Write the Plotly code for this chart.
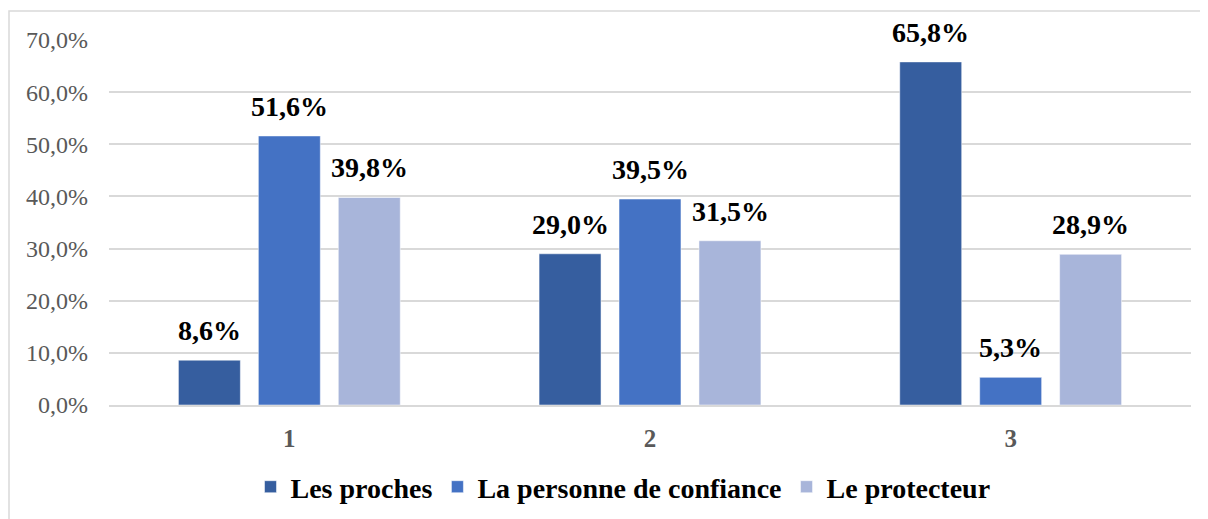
import plotly.graph_objects as go

categories = ["1", "2", "3"]
series_names = ["Les proches", "La personne de confiance", "Le protecteur"]
les_proches = [8.6, 29.0, 65.8]
personne_confiance = [51.6, 39.5, 5.3]
protecteur = [39.8, 31.5, 28.9]
y_ticks = [0, 10, 20, 30, 40, 50, 60, 70]
y_tick_labels = ["0,0%", "10,0%", "20,0%", "30,0%", "40,0%", "50,0%", "60,0%", "70,0%"]

colors = ["#365E9F", "#4472C4", "#A8B5DA"]
all_values = [les_proches, personne_confiance, protecteur]
SERIF = "Liberation Serif"

def fmt(v):
    return f"{v:.1f}".replace(".", ",") + "%"

fig = go.Figure()
for name, vals, col in zip(series_names, all_values, colors):
    fig.add_trace(go.Bar(
        x=categories, y=vals, name="<b>" + name + "</b>",
        marker=dict(color=col, line=dict(color="rgba(255,255,255,0.5)", width=1)),
        hoverinfo="skip",
    ))

# data labels via annotations anchored to the bar values (category index on x)
offsets = [-80, 0, 80]
for vals, dx in zip(all_values, offsets):
    for i, v in enumerate(vals):
        fig.add_annotation(
            x=i, y=v, xref="x", yref="y", text="<b>" + fmt(v) + "</b>", showarrow=False,
            xshift=dx, yshift=12, yanchor="bottom",
            font=dict(family=SERIF, size=28, color="#000000"),
        )

# page body has an 8px margin; compensate
L, R, T, B = 101, 17, 32, 114
W, H = 1200, 511
pw, ph = W - L - R, H - T - B

fig.add_shape(
    type="rect", xref="paper", yref="paper",
    x0=(1 - L) / pw, x1=(1220 - L) / pw,
    y0=1 - (530 - T) / ph, y1=1 + (T - 3) / ph,
    line=dict(color="#D9D9D9", width=1.5), fillcolor="rgba(0,0,0,0)", layer="below",
)

fig.update_layout(
    width=W, height=H,
    margin=dict(l=L, r=R, t=T, b=B, pad=0, autoexpand=False),
    paper_bgcolor="white", plot_bgcolor="white",
    barmode="group", bargap=0.335, bargroupgap=0.225,
    font=dict(family=SERIF),
    showlegend=True,
    legend=dict(
        orientation="h", xref="paper", x=(615 - L) / pw, xanchor="center",
        yref="paper", y=-(479 - 397) / ph, yanchor="middle",
        font=dict(family=SERIF, size=28, color="#000000"),
        itemwidth=30, traceorder="normal",
    ),
    xaxis=dict(
        type="category", range=[-0.5, 2.5], showgrid=False, showline=True, linecolor="#D9D9D9", linewidth=1.5,
        ticks="", tickfont=dict(family=SERIF, size=25, color="#595959"),
        tickvals=categories, ticktext=["<b>" + c + "</b>" for c in categories],
        ticklabelstandoff=10,
    ),
    yaxis=dict(
        range=[0, 70], tickvals=y_ticks, ticktext=y_tick_labels,
        showgrid=True, gridcolor="#D9D9D9", gridwidth=1.5, zeroline=False,
        showline=False, ticks="",
        tickfont=dict(family=SERIF, size=24, color="#595959"),
        ticklabelstandoff=20,
    ),
)

fig.write_html("out.html")
